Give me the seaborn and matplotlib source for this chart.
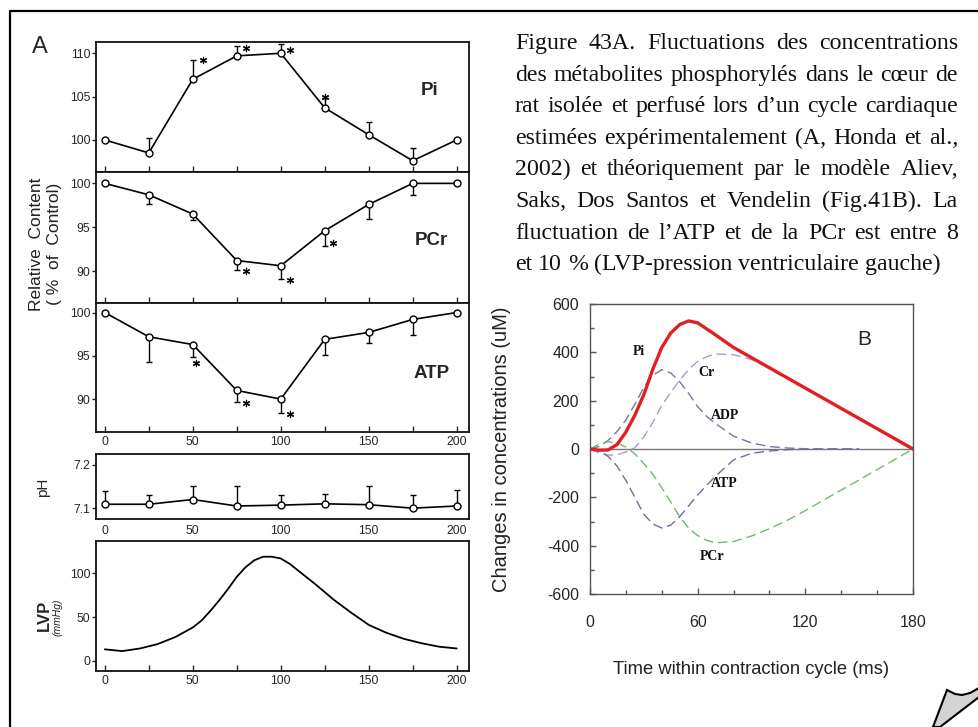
import numpy as np
import matplotlib
matplotlib.use("Agg")
import matplotlib.pyplot as plt
import seaborn as sns
from matplotlib.lines import Line2D
from matplotlib.patches import Polygon
from matplotlib.ticker import MultipleLocator

# ---------------- panel A (Honda et al. 2002) ----------------
time_a = [0, 25, 50, 75, 100, 125, 150, 175, 200]

pi_a = [100, 98.5, 107.0, 109.7, 110.0, 103.7, 100.6, 97.6, 100]
pi_err = [0, 1.7, 2.2, 1.1, 1.1, 1.1, 1.5, 1.5, 0]
pi_star_x = [56, 80.5, 105.5, 125]
pi_star_y = [109.2, 110.6, 110.4, 104.9]

pcr_a = [100, 98.7, 96.5, 91.2, 90.6, 94.6, 97.6, 100, 100]
pcr_err = [0, 1.1, 0.7, 1.1, 1.5, 1.7, 1.7, 1.3, 0]
pcr_star_x = [80.5, 105, 129.7]
pcr_star_y = [90.0, 89.0, 93.2]

atp_a = [100, 97.2, 96.3, 91.0, 90.0, 96.9, 97.7, 99.2, 100]
atp_err = [0, 2.9, 1.4, 1.3, 1.6, 1.8, 1.2, 1.8, 0]
atp_star_x = [52, 80, 105]
atp_star_y = [94.2, 89.5, 88.3]

ph_a = [7.109, 7.109, 7.12, 7.105, 7.107, 7.11, 7.108, 7.10, 7.105]
ph_err = [0.031, 0.022, 0.032, 0.047, 0.024, 0.023, 0.044, 0.031, 0.037]

lvp_t = [0, 10, 20, 30, 40, 50, 55, 60, 65, 70, 75, 80, 85, 90, 95, 100,
         105, 110, 115, 120, 130, 140, 150, 160, 170, 180, 190, 200]
lvp = [13, 11, 14, 19, 27, 38, 46, 57, 69, 82, 96, 107, 115, 119, 119, 117,
       111, 103, 95, 87, 70, 55, 41, 32, 25, 20, 16, 14]

# ---------------- panel B (model) ----------------
t_b = [0, 5, 10, 15, 20, 25, 30, 35, 40, 45, 50, 55, 60, 65,
       70, 80, 90, 100, 110, 120, 130, 140, 150, 160, 170, 180]
pi_b = [0, -5, -4, 18, 70, 140, 225, 330, 420, 480, 515, 530, 522, 497,
        472, 420, 378, 336, 294, 252, 210, 168, 126, 84, 42, 0]
cr_b = [0, -15, -25, -24, -12, 5, 50, 110, 180, 235, 285, 330, 362, 382,
        393, 390, 370, 336, 294, 252, 210, 168, 126, 84, 42, 0]
pcr_b = [0, 20, 30, 25, 8, -20, -60, -105, -160, -220, -280, -328, -358, -378,
         -388, -383, -360, -330, -295, -255, -212, -170, -128, -85, -43, 0]
t_short = [0, 5, 10, 15, 20, 25, 30, 35, 40, 45, 50, 55, 60, 65,
           70, 80, 90, 100, 110, 120, 130, 140, 150]
adp_b = [0, 10, 35, 72, 120, 185, 255, 305, 328, 315, 278, 230, 175, 135,
         105, 53, 25, 10, 4, 1, 0, 0, 0]
atp_b = [0, -8, -30, -70, -130, -200, -270, -310, -327, -315, -280, -235, -190, -150,
         -112, -45, -18, -8, -3, -1, 0, 0, 0]

caption_lines = [
    "Figure 43A. Fluctuations des concentrations",
    "des métabolites phosphorylés dans le cœur de",
    "rat isolée et perfusé lors d’un cycle cardiaque",
    "estimées expérimentalement (A, Honda et al.,",
    "2002) et théoriquement par le modèle Aliev,",
    "Saks, Dos Santos et Vendelin (Fig.41B). La",
    "fluctuation de l’ATP et de la PCr est entre 8",
    "et 10 % (LVP-pression ventriculaire gauche)",
]

sns.set_style("ticks")
plt.rcParams["font.family"] = ["Liberation Sans", "DejaVu Sans"]
plt.rcParams["axes.unicode_minus"] = False

W, H = 979, 727
fig = plt.figure(figsize=(W / 100, H / 100), dpi=100)


def rect(l, t, r, b):
    return [l / W, 1 - b / H, (r - l) / W, (b - t) / H]


def fx(x):
    return x / W


def fy(y):
    return 1 - y / H


def panel_a(box, y, err, up, ylim, yticks, ylabels=None):
    ax = fig.add_axes(rect(*box))
    x_e = [t for t, e in zip(time_a, err) if e > 0]
    y_e = [v for v, e in zip(y, err) if e > 0]
    e_e = [e for e in err if e > 0]
    zero = [0] * len(e_e)
    yerr = [zero, e_e] if up else [e_e, zero]
    ax.errorbar(x_e, y_e, yerr=yerr, fmt="none", ecolor="black",
                elinewidth=1, capsize=2.5, capthick=1, zorder=2)
    sns.lineplot(x=time_a, y=y, ax=ax, color="black", lw=1.2, marker="o",
                 markersize=5, markerfacecolor="white",
                 markeredgecolor="black", markeredgewidth=1, zorder=3)
    ax.set_xlim(-5, 207)
    ax.set_ylim(*ylim)
    ax.set_yticks(yticks)
    if ylabels is not None:
        ax.set_yticklabels(ylabels)
    ax.set_xlabel("")
    ax.set_ylabel("")
    for s in ax.spines.values():
        s.set_visible(True)
        s.set_linewidth(1.3)
        s.set_color("#111111")
    ax.tick_params(axis="y", direction="out", length=3, width=1,
                   labelsize=8.8, pad=1)
    ax.xaxis.set_major_locator(MultipleLocator(25))
    ax.tick_params(axis="x", direction="in", length=4, width=1,
                   labelsize=8.8, pad=3)
    return ax


ax_pi = panel_a((96, 42, 469, 172), pi_a, pi_err, True, (96.3, 111.3), [100, 105, 110])
ax_pcr = panel_a((96, 172, 469, 303), pcr_a, pcr_err, False, (86.35, 101.3), [90, 95, 100])
ax_atp = panel_a((96, 303, 469, 432), atp_a, atp_err, False, (86.2, 101.1), [90, 95, 100])
ax_ph = panel_a((96, 454, 469, 519), ph_a, ph_err, True, (7.075, 7.225), [7.1, 7.2], ["7.1", "7.2"])

for ax in (ax_pi, ax_pcr):
    ax.set_xticklabels([])
for ax in (ax_atp, ax_ph):
    ax.set_xticks([0, 25, 50, 75, 100, 125, 150, 175, 200])
    ax.set_xticklabels(["0", "", "50", "", "100", "", "150", "", "200"])
ax_ph.tick_params(axis="x", length=0, pad=4)

for ax, sx, sy in ((ax_pi, pi_star_x, pi_star_y),
                   (ax_pcr, pcr_star_x, pcr_star_y),
                   (ax_atp, atp_star_x, atp_star_y)):
    ax.scatter(sx, sy, marker=(6, 2, 0), s=20, color="black", lw=0.9, zorder=4)

ax_pi.text(184.7, 105.7, "Pi", fontsize=13.5, fontweight="bold", ha="center", va="center")
ax_pcr.text(185.6, 93.5, "PCr", fontsize=13.5, fontweight="bold", ha="center", va="center")
ax_atp.text(185.6, 93.0, "ATP", fontsize=13.5, fontweight="bold", ha="center", va="center")

# LVP trace
ax_lvp = fig.add_axes(rect(96, 541, 469, 671))
sns.lineplot(x=lvp_t, y=lvp, ax=ax_lvp, color="black", lw=1.3)
ax_lvp.set_xlim(-5, 207)
ax_lvp.set_ylim(-11.8, 137)
ax_lvp.set_yticks([0, 50, 100])
ax_lvp.set_xticks([0, 25, 50, 75, 100, 125, 150, 175, 200])
ax_lvp.set_xticklabels(["0", "", "50", "", "100", "", "150", "", "200"])
ax_lvp.set_xlabel("")
ax_lvp.set_ylabel("")
for s in ax_lvp.spines.values():
    s.set_visible(True)
    s.set_linewidth(1.3)
    s.set_color("#111111")
ax_lvp.tick_params(axis="y", direction="out", length=3, width=1, labelsize=8.8, pad=1)
ax_lvp.tick_params(axis="x", direction="in", length=4, width=1, labelsize=8.8, pad=3)

fig.text(fx(40), fy(47), "A", fontsize=17, ha="center", va="center")
fig.text(fx(37), fy(244), "Relative  Content", fontsize=12.5, rotation=90,
         ha="center", va="center", color="#222222")
fig.text(fx(55), fy(244), "( %  of  Control)", fontsize=12.5, rotation=90,
         ha="center", va="center", color="#222222")
fig.text(fx(43), fy(487), "pH", fontsize=11, rotation=90, ha="center", va="center")
fig.text(fx(44), fy(615), "LVP", fontsize=12, fontweight="bold", rotation=90,
         ha="center", va="center")
fig.text(fx(58), fy(617), "(mmHg)", fontsize=7.5, style="italic", rotation=90,
         ha="center", va="center")

# ---------------- panel B ----------------
ax_b = fig.add_axes(rect(590, 304, 913, 594))
ax_b.axhline(0, color="#777777", lw=1, zorder=1)
dash = (0, (7, 3.5))
sns.lineplot(x=t_b, y=cr_b, ax=ax_b, color="#b396cf", lw=1, linestyle=dash)
sns.lineplot(x=t_short, y=adp_b, ax=ax_b, color="#77779c", lw=1, linestyle=dash)
sns.lineplot(x=t_short, y=atp_b, ax=ax_b, color="#6f6fa0", lw=1, linestyle=dash)
sns.lineplot(x=t_b, y=pcr_b, ax=ax_b, color="#72b872", lw=1, linestyle=dash)
sns.lineplot(x=t_b, y=pi_b, ax=ax_b, color="#e31e24", lw=2.4)
ax_b.set_xlim(0, 180)
ax_b.set_ylim(-600, 600)
ax_b.set_xticks([0, 60, 120, 180])
ax_b.set_yticks([-600, -400, -200, 0, 200, 400, 600])
ax_b.xaxis.set_minor_locator(MultipleLocator(20))
ax_b.yaxis.set_minor_locator(MultipleLocator(100))
ax_b.set_xlabel("")
ax_b.set_ylabel("")
for s in ax_b.spines.values():
    s.set_visible(True)
    s.set_linewidth(1)
    s.set_color("#555555")
ax_b.tick_params(which="both", direction="in", color="#555555", width=1)
ax_b.tick_params(which="major", length=4, labelsize=11.5)
ax_b.tick_params(which="minor", length=3)
ax_b.tick_params(axis="x", which="major", pad=15)
ax_b.tick_params(axis="y", which="major", pad=8)

for lx, ly, lab in ((27.3, 402, "Pi"), (65, 315, "Cr"), (75, 138, "ADP"),
                    (75, -144, "ATP"), (68, -446, "PCr")):
    ax_b.text(lx, ly, lab, fontsize=10, fontweight="bold", family="Liberation Serif",
              ha="center", va="center", color="#111111")
ax_b.text(153, 455, "B", fontsize=15, ha="center", va="center")

fig.text(fx(502), fy(449), "Changes in concentrations (uM)", fontsize=14.5,
         rotation=90, ha="center", va="center", color="#222222")
fig.text(fx(751), fy(670), "Time within contraction cycle (ms)", fontsize=13.2,
         ha="center", va="center", color="#222222")

# ---------------- caption (justified) ----------------
renderer = fig.canvas.get_renderer()
x0, x1 = 515, 958
for i, line in enumerate(caption_lines):
    yb = fy(49 + i * 31.6)
    words = line.split(" ")
    texts = [fig.text(0, yb, w, fontsize=17.2, family="Liberation Serif",
                      va="baseline", color="#111111") for w in words]
    widths = [t.get_window_extent(renderer).width for t in texts]
    if i < len(caption_lines) - 1:
        gap = (x1 - x0 - sum(widths)) / (len(words) - 1)
    else:
        gap = 6.0
    x = x0
    for t, w in zip(texts, widths):
        t.set_x(fx(x))
        x += w + gap

# page frame and curl
fig.add_artist(Line2D([fx(10), fx(10), fx(979)], [fy(727), fy(11), fy(11)],
                      color="black", lw=1.6, transform=fig.transFigure))
curl = [(947, 690), (955, 694), (962, 695), (970, 693), (979, 688),
        (979, 697), (940, 727), (933, 727)]
fig.add_artist(Polygon([(fx(a), fy(b)) for a, b in curl], closed=True,
                       facecolor="#d4d4d4", edgecolor="black", lw=1.5,
                       transform=fig.transFigure))

fig.savefig("out.png", dpi=100)
